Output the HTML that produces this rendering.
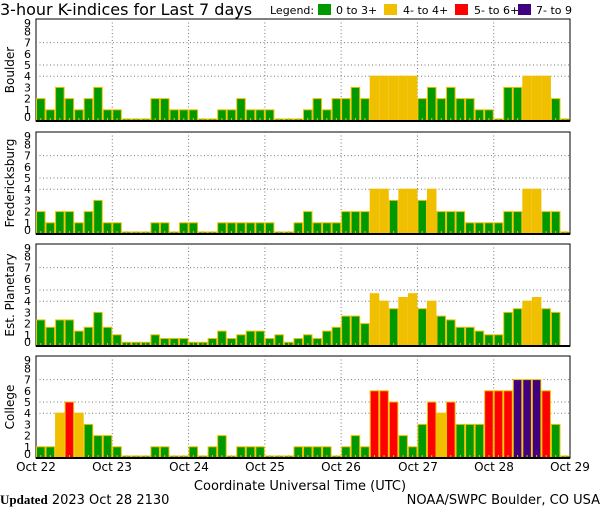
<!DOCTYPE html>
<html><head><meta charset="utf-8"><style>
html,body{margin:0;padding:0;background:#fff;width:600px;height:510px;overflow:hidden}
svg{display:block}
text{font-family:"DejaVu Sans","Liberation Sans",sans-serif;fill:#000}
</style></head><body>
<svg id="s" width="600" height="510" xmlns="http://www.w3.org/2000/svg">
<text x="0" y="15" font-size="16">3-hour K-indices for Last 7 days</text>
<text x="270" y="14" font-size="11">Legend:</text>
<rect x="318" y="4" width="13" height="11" fill="#009900"/><text x="336" y="14" font-size="11">0 to 3+</text>
<rect x="384" y="4" width="13" height="11" fill="#f0c000"/><text x="403" y="14" font-size="11">4- to 4+</text>
<rect x="455" y="4" width="13" height="11" fill="#ff0000"/><text x="474" y="14" font-size="11">5- to 6+</text>
<rect x="518" y="4" width="13" height="11" fill="#400080"/><text x="536" y="14" font-size="11">7- to 9</text>
<line x1="268" y1="19" x2="570" y2="19" stroke="#000"/>
<g id="panels"></g>
<text x="10" y="70" font-size="12" text-anchor="middle" transform="rotate(-90 10 70)" dy="4">Boulder</text>
<text x="10" y="183" font-size="12" text-anchor="middle" transform="rotate(-90 10 183)" dy="4">Fredericksburg</text>
<text x="10" y="295" font-size="12" text-anchor="middle" transform="rotate(-90 10 295)" dy="4">Est. Planetary</text>
<text x="10" y="407" font-size="12" text-anchor="middle" transform="rotate(-90 10 407)" dy="4">College</text>
<g font-size="12" text-anchor="middle">
<text x="36" y="471">Oct 22</text><text x="112" y="471">Oct 23</text><text x="189" y="471">Oct 24</text>
<text x="265" y="471">Oct 25</text><text x="341" y="471">Oct 26</text><text x="418" y="471">Oct 27</text>
<text x="494" y="471">Oct 28</text><text x="570" y="471">Oct 29</text>
</g>
<text x="300" y="490" font-size="13" text-anchor="middle">Coordinate Universal Time (UTC)</text>
<text x="0" y="504" font-size="13"><tspan font-weight="bold" font-family="Liberation Serif,serif">Updated</tspan> 2023 Oct 28 2130</text>
<text x="600" y="504" font-size="13" text-anchor="end">NOAA/SWPC Boulder, CO USA</text>
<g id="yl" font-size="11" text-anchor="end"></g>
</svg>
<script>
var D=[
[2,1,3,2,1,2,3,1, 1,0,0,0,2,2,1,1, 1,0,0,1,1,2,1,1, 1,0,0,0,1,2,1,2, 2,3,2,4,4,4,4,4, 2,3,2,3,2,2,1,1, 0,3,3,4,4,4,2,0],
[2,1,2,2,1,2,3,1, 1,0,0,0,1,1,0,1, 1,0,0,1,1,1,1,1, 1,0,0,1,2,1,1,1, 2,2,2,4,4,3,4,4, 3,4,2,2,2,1,1,1, 1,2,2,4,4,2,2,0],
[2.33,1.67,2.33,2.33,1.33,1.67,3,1.67, 1,.33,.33,.33,1,.67,.67,.67, .33,.33,.67,1.33,.67,1,1.33,1.33, .67,1,.33,.67,1,.67,1.33,1.67, 2.67,2.67,2,4.67,4,3.33,4.33,4.67, 3.33,4,2.67,2.33,1.67,1.67,1.33,1, 1,3,3.33,4,4.33,3.33,3,null],
[1,1,4,5,4,3,2,2, 1,0,0,0,1,1,0,0, 1,0,1,2,0,1,1,1, 0,0,0,1,1,1,1,0, 1,2,1,6,6,5,2,1, 3,5,4,5,3,3,3,6, 6,6,7,7,7,6,3,0]];
var tops=[19,132,244,356],L=36,R=570,W=(R-L)/56,U=11.2,h='',ns='http://www.w3.org/2000/svg';
function col(v){return v>=7?'#400080':v>=5?'#ff0000':v>=4?'#f0c000':'#009900'}
for(var p=0;p<4;p++){var t=tops[p],b=t+102;
 h+='<rect x="'+L+'" y="'+t+'" width="'+(R-L)+'" height="102" fill="#fff" stroke="#000" stroke-width="1"/>';
 [4,5,7].forEach(function(k){var y=b-k*U;h+='<line x1="'+L+'" y1="'+y+'" x2="'+R+'" y2="'+y+'" stroke="#777" stroke-dasharray="1 2.5"/>'});
 for(var d=1;d<7;d++){var x=L+d*W*8;h+='<line x1="'+x+'" y1="'+t+'" x2="'+x+'" y2="'+b+'" stroke="#777" stroke-dasharray="1 2.5"/>'}
 for(var i=0;i<56;i++){var v=D[p][i];if(v===null)continue;var hh=v==0?2:v*U;var x=L+i*W;
  h+='<rect x="'+(x+0.5)+'" y="'+(b-hh)+'" width="'+(W-1)+'" height="'+hh+'" fill="'+col(v)+'" stroke="#f0c000" stroke-width="1"/>';
  h+='<line x1="'+(x+W/2)+'" y1="'+(b-3)+'" x2="'+(x+W/2)+'" y2="'+b+'" stroke="#f0c000"/>';}
 h+='<line x1="'+L+'" y1="'+b+'" x2="'+R+'" y2="'+b+'" stroke="#000" stroke-width="2"/>';
 h+='<line x1="'+R+'" y1="'+t+'" x2="'+R+'" y2="'+b+'" stroke="#000" stroke-dasharray="3 2"/>';
}
document.getElementById('panels').innerHTML=h;
var g='';for(var p=0;p<4;p++){var b=tops[p]+102;for(var k=0;k<10;k++){var y=b-k*U+4;if(k==0)y=b;if(k==9)y=tops[p]+8;g+='<text x="31" y="'+y+'">'+k+'</text>'}}
document.getElementById('yl').innerHTML=g;
</script>
</body></html>
